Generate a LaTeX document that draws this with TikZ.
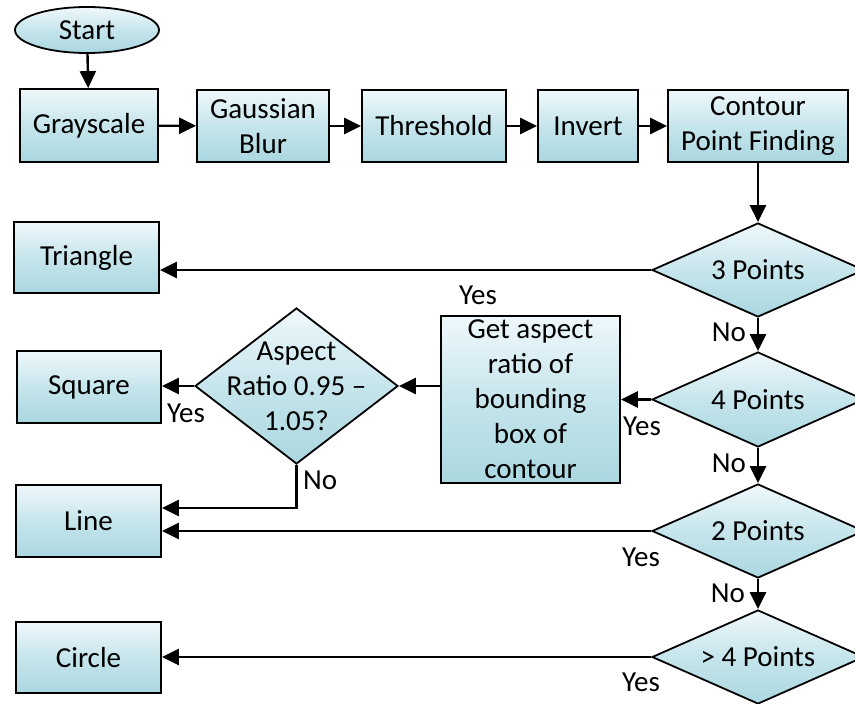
\documentclass[tikz,border=0pt]{standalone}
\usepackage{fontspec}
\setmainfont{Carlito}
\usetikzlibrary{shapes.geometric,arrows.meta}
\definecolor{filltop}{HTML}{EFF8FB}
\definecolor{fillmid}{HTML}{C6E5EC}
\definecolor{fillbot}{HTML}{AAD7E0}
\begin{document}
\begin{tikzpicture}[x=1pt,y=-1pt,
  every node/.style={font=\fontsize{29}{35}\selectfont, text=black},
  shade3/.style={top color=filltop, bottom color=fillbot, middle color=fillmid},
  procbox/.style={draw=black, line width=1.8pt, shade3, rectangle, inner sep=0pt, align=center},
  decision/.style={draw=black, line width=1.8pt, shade3, diamond, inner sep=0pt},
  terminal/.style={draw=black, line width=1.8pt, shade3, ellipse, inner sep=0pt},
  arr/.style={line width=2.4pt, -{Triangle[length=17pt,width=16pt]}},
  lbl/.style={inner sep=0pt}]
\useasboundingbox (0,0) rectangle (855,704);
\clip (0,0) rectangle (855,704);

% start and preprocessing chain
\node[terminal, minimum width=144, minimum height=46] (start) at (87,30) {Start};
\node[procbox, minimum width=138, minimum height=73] (gray) at (89,125.5) {Grayscale};
\node[procbox, minimum width=132, minimum height=72] (gauss) at (263,126) {Gaussian\\Blur};
\node[procbox, minimum width=144, minimum height=72] (thresh) at (434,126) {Threshold};
\node[procbox, minimum width=100, minimum height=72] (invert) at (588,126) {Invert};
\node[procbox, minimum width=180, minimum height=72] (contour) at (758,126) {Contour\\Point Finding};

% shape outputs
\node[procbox, minimum width=145, minimum height=71] (tri) at (86.5,257.5) {Triangle};
\node[procbox, minimum width=144, minimum height=72] (square) at (89,387) {Square};
\node[procbox, minimum width=145, minimum height=72] (line) at (88.5,521) {Line};
\node[procbox, minimum width=145, minimum height=71] (circle) at (88.5,657.5) {Circle};

% aspect ratio step
\node[procbox, minimum width=179, minimum height=167] (aspbox) at (530.5,399.5)
  {Get aspect\\ratio of\\bounding\\box of\\contour};

% decisions
\node[decision, minimum width=212, minimum height=94, label=center:{3 Points}] (d3) at (758,270) {};
\node[decision, minimum width=212, minimum height=95, label=center:{4 Points}] (d4) at (758,399.5) {};
\node[decision, minimum width=212, minimum height=94, label=center:{2 Points}] (d2) at (758,531) {};
\node[decision, minimum width=212, minimum height=94, label=center:{> 4 Points}] (d5) at (758,657) {};
\node[decision, minimum width=203, minimum height=156,
  label={[align=center]center:{Aspect\\Ratio 0.95 –\\1.05?}}] (dar) at (296.5,386) {};

% main flow
\draw[arr] (start) -- (gray);
\draw[arr] (gray) -- (gauss);
\draw[arr] (gauss) -- (thresh);
\draw[arr] (thresh) -- (invert);
\draw[arr] (invert) -- (contour);
\draw[arr] (contour) -- (d3);
\draw[arr] (d3) -- (d4);
\draw[arr] (d4) -- (d2);
\draw[arr] (d2) -- (d5);

% yes branches
\draw[arr] (d3.west) -- (d3.west -| tri.east);
\draw[arr] (d4.west) -- (aspbox.east);
\draw[arr] (aspbox.west |- dar.east) -- (dar.east);
\draw[arr] (dar.west) -- (dar.west -| square.east);
\draw[arr] (dar.south) |- ([yshift=13pt]line.east);
\draw[arr] (d2.west) -- (d2.west -| line.east);
\draw[arr] (d5.west) -- (d5.west -| circle.east);

% branch labels
\node[lbl] (y3) at (478,295) {Yes};
\node[lbl] (n3) at (729,332) {No};
\node[lbl] (y4) at (642,426) {Yes};
\node[lbl] (n4) at (729,463) {No};
\node[lbl] (ysq) at (186,413) {Yes};
\node[lbl, anchor=west] (nar) at (303,480) {No};
\node[lbl] (y2) at (641,557) {Yes};
\node[lbl] (n2) at (728,593) {No};
\node[lbl] (y5) at (641,682) {Yes};
\end{tikzpicture}
\end{document}
